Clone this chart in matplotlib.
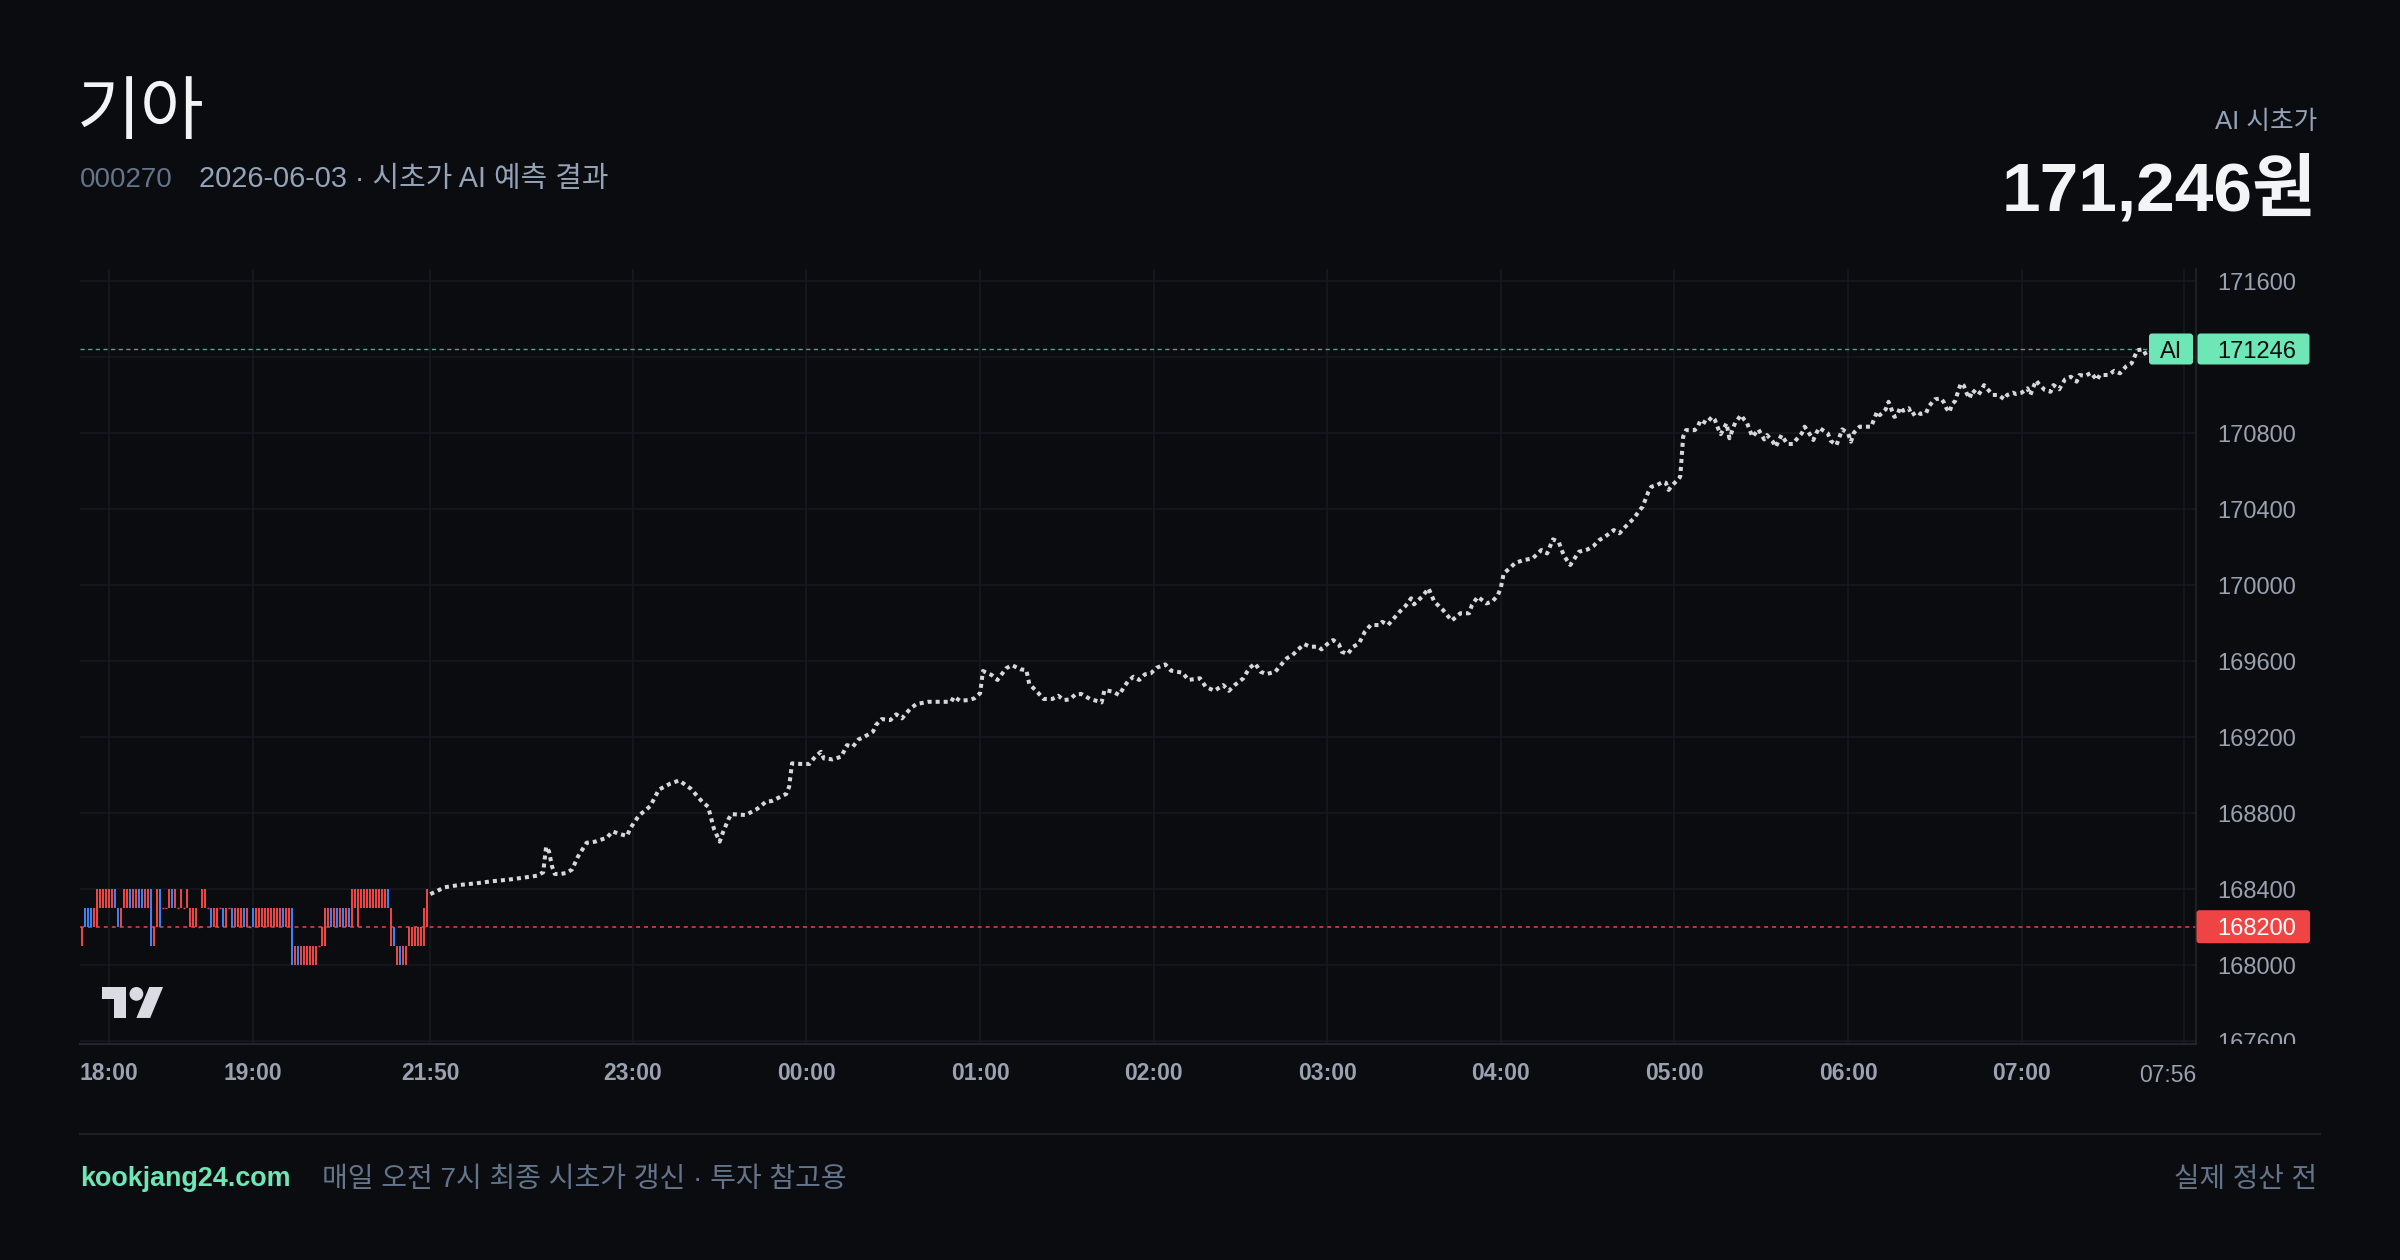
import numpy as np
import matplotlib
matplotlib.use('Agg')
import matplotlib.pyplot as plt
from matplotlib.patches import FancyBboxPatch, Polygon, Circle
from matplotlib.transforms import Bbox, TransformedBbox

plt.rcParams['font.family'] = ['Liberation Sans', 'Noto Sans CJK KR', 'DejaVu Sans']

# ---- data ----
stock_name = '기아'
stock_code = '000270'
subtitle = '2026-06-03 · 시초가 AI 예측 결과'
ai_price = 171246
ref_price = 168200

# 1-minute candles of the evening session (oldest first)
hist_open = [168100, 168300, 168300, 168300, 168200, 168200, 168300, 168300, 168300, 168300,
             168300, 168400, 168300, 168200, 168300, 168300, 168400, 168300, 168300, 168400,
             168400, 168300, 168300, 168400, 168100, 168200, 168400, 168300, 168300, 168300,
             168400, 168300, 168300, 168300, 168300, 168300, 168200, 168200, 168200, 168200,
             168300, 168300, 168300, 168300, 168200, 168200, 168300, 168300, 168200, 168300,
             168300, 168200, 168200, 168200, 168300, 168200, 168200, 168300, 168200, 168200,
             168200, 168200, 168200, 168200, 168200, 168200, 168200, 168300, 168200, 168200,
             168300, 168000, 168100, 168000, 168000, 168000, 168000, 168000, 168000, 168100,
             168100, 168100, 168200, 168300, 168200, 168300, 168200, 168300, 168200, 168300,
             168200, 168300, 168200, 168300, 168300, 168300, 168300, 168300, 168300, 168300,
             168300, 168300, 168400, 168100, 168200, 168000, 168100, 168000, 168000, 168100,
             168100, 168100, 168100, 168100, 168100, 168200]
hist_close = [168200, 168200, 168200, 168200, 168300, 168400, 168400, 168400, 168400, 168400,
              168400, 168300, 168200, 168300, 168400, 168400, 168300, 168400, 168400, 168300,
              168300, 168400, 168400, 168100, 168200, 168400, 168200, 168300, 168300, 168400,
              168300, 168400, 168300, 168400, 168300, 168400, 168300, 168300, 168300, 168200,
              168400, 168400, 168300, 168200, 168300, 168300, 168300, 168200, 168300, 168300,
              168200, 168300, 168300, 168300, 168200, 168300, 168200, 168200, 168300, 168300,
              168300, 168300, 168300, 168300, 168300, 168300, 168300, 168200, 168300, 168300,
              168000, 168100, 168000, 168100, 168100, 168100, 168100, 168100, 168100, 168100,
              168200, 168300, 168300, 168200, 168300, 168200, 168300, 168200, 168300, 168200,
              168400, 168400, 168400, 168400, 168400, 168400, 168400, 168400, 168400, 168400,
              168400, 168400, 168300, 168300, 168100, 168100, 168000, 168100, 168100, 168200,
              168200, 168200, 168200, 168200, 168300, 168400]
hist_tick_idx = [9, 57]
hist_tick_lbl = ['18:00', '19:00']

# AI forecast path, minutes after 21:50
fc_min = [0, 5, 10, 16, 21, 27, 32, 37, 39, 40, 41, 42, 43, 45, 47, 49, 51, 54, 57, 61,
          63, 65, 68, 69, 72, 76, 79, 83, 86, 90, 94, 96, 98, 100, 101, 103, 104, 109, 113, 116,
          118, 123, 124, 125, 128, 131, 133, 135, 136, 139, 142, 144, 146, 148, 150, 153, 154, 156, 159, 161,
          163, 166, 168, 172, 180, 181, 183, 186, 188, 190, 191, 194, 196, 199, 201, 204, 206, 207, 210, 212,
          215, 217, 219, 221, 223, 225, 228, 232, 233, 236, 238, 241, 243, 245, 247, 249, 251, 254, 256, 260,
          262, 266, 268, 271, 274, 276, 278, 281, 283, 285, 287, 289, 292, 294, 296, 298, 300, 302, 304, 307,
          308, 310, 312, 314, 315, 317, 319, 321, 323, 325, 328, 329, 331, 333, 335, 337, 339, 340, 343, 345,
          347, 350, 353, 356, 359, 360, 362, 365, 367, 369, 370, 371, 373, 375, 378, 381, 384, 386, 388, 390,
          391, 392, 394, 397, 400, 402, 404, 406, 409, 411, 413, 416, 418, 419, 420, 421, 422, 424, 426, 427,
          428, 429, 431, 432, 433, 434, 437, 438, 439, 441, 443, 444, 445, 446, 448, 449, 450, 451, 453, 454,
          455, 456, 457, 459, 461, 462, 464, 465, 467, 469, 471, 472, 474, 475, 476, 478, 479, 480, 483, 484,
          486, 487, 488, 490, 491, 492, 494, 496, 498, 499, 500, 501, 503, 504, 505, 506, 507, 508, 509, 511,
          512, 514, 515, 517, 518, 520, 522, 523, 524, 525, 526, 527, 528, 529, 530, 531, 532, 533, 535, 536,
          537, 539, 540, 542, 544, 545, 547, 548, 550, 552, 553, 554, 555, 556, 558, 560, 561, 563, 564, 565,
          567, 569, 570, 572, 574, 576, 577, 580, 582, 584, 586, 588, 589, 590, 592, 593, 597]
fc_price = [168375, 168411, 168423, 168432, 168442, 168451, 168461, 168472, 168490, 168624,
            168600, 168523, 168481, 168481, 168486, 168505, 168572, 168645, 168651, 168672,
            168705, 168693, 168681, 168719, 168787, 168838, 168925, 168957, 168973, 168930,
            168860, 168835, 168719, 168651, 168695, 168768, 168796, 168791, 168824, 168861,
            168865, 168902, 168940, 169063, 169060, 169060, 169098, 169124, 169089, 169084,
            169098, 169159, 169150, 169189, 169203, 169230, 169265, 169296, 169291, 169321,
            169300, 169353, 169375, 169387, 169387, 169414, 169393, 169396, 169405, 169432,
            169549, 169528, 169502, 169563, 169580, 169558, 169554, 169481, 169435, 169402,
            169402, 169419, 169396, 169400, 169426, 169428, 169402, 169384, 169449, 169440,
            169423, 169493, 169519, 169502, 169532, 169537, 169566, 169584, 169551, 169540,
            169502, 169511, 169466, 169445, 169475, 169445, 169475, 169511, 169563, 169589,
            169545, 169533, 169545, 169581, 169616, 169633, 169663, 169691, 169677, 169677,
            169663, 169691, 169712, 169691, 169651, 169638, 169677, 169695, 169756, 169791,
            169791, 169808, 169791, 169826, 169861, 169891, 169932, 169900, 169944, 169984,
            169914, 169870, 169814, 169853, 169853, 169896, 169940, 169905, 169914, 169949,
            169989, 170063, 170089, 170119, 170133, 170142, 170186, 170168, 170242, 170229,
            170186, 170151, 170107, 170177, 170189, 170207, 170238, 170256, 170291, 170274,
            170308, 170353, 170396, 170414, 170454, 170493, 170519, 170528, 170545, 170540,
            170502, 170523, 170554, 170572, 170782, 170817, 170817, 170832, 170870, 170853,
            170887, 170870, 170829, 170796, 170853, 170774, 170817, 170856, 170896, 170874,
            170858, 170817, 170782, 170821, 170768, 170791, 170756, 170729, 170791, 170744,
            170744, 170765, 170800, 170835, 170814, 170765, 170800, 170829, 170800, 170761,
            170738, 170779, 170821, 170800, 170756, 170803, 170835, 170835, 170835, 170874,
            170914, 170896, 170926, 170966, 170926, 170887, 170893, 170937, 170919, 170932,
            170896, 170914, 170902, 170908, 170944, 170979, 170984, 170966, 170932, 170911,
            170954, 170970, 171019, 171063, 171051, 171011, 170984, 171028, 171002, 171024,
            171054, 171019, 171002, 171002, 170979, 171002, 171014, 171007, 171014, 171037,
            171002, 171042, 171078, 171059, 171028, 171019, 171054, 171032, 171059, 171084,
            171098, 171072, 171107, 171102, 171119, 171080, 171107, 171107, 171129, 171116,
            171151, 171168, 171203, 171238, 171242, 171212, 171246]
fc_tick_min = [0, 70, 130, 190, 250, 310, 370, 430, 490, 550]
fc_tick_lbl = ['21:50', '23:00', '00:00', '01:00', '02:00', '03:00', '04:00', '05:00', '06:00', '07:00']
end_min = 606
end_lbl = '07:56'
price_ticks = [167600, 168000, 168400, 168800, 169200, 169600, 170000, 170400, 170800, 171200, 171600]

# ---- colours ----
BG = '#0a0c10'
GRID = '#171a20'
AXC = '#9aa2b1'
UP = '#ef4444'
DOWN = '#3b82f6'
MINT = '#6ee7b7'

fig = plt.figure(figsize=(24, 12.6), dpi=100, facecolor=BG)
W, H = 2400, 1260
ax = fig.add_axes([80 / W, 1 - 1044 / H, (2196.4 - 80) / W, (1044 - 269) / H])
ax.set_facecolor(BG)
ax.set_xlim(-121.1, 610.4)
ax.set_ylim(167586, 171665)

# candles placed by bar slot, the last one just before 21:50
slot = 1.037
n = len(hist_open)
o = np.array(hist_open)
c = np.array(hist_close)
cx = -1.25 - slot * (n - 1 - np.arange(n))
up = c > o
dn = c < o
dj = c == o
ax.bar(cx[up], (c - o)[up], bottom=o[up], width=0.7, color=UP, linewidth=0, zorder=3)
ax.bar(cx[dn], (c - o)[dn], bottom=o[dn], width=0.7, color=DOWN, linewidth=0, zorder=3)
ax.hlines(o[dj], cx[dj] - 0.35, cx[dj] + 0.35, color=UP, lw=1.0, zorder=3)

# reference price lines
ax.axhline(ref_price, color=UP, lw=1.1, dashes=(2.6, 2.6), zorder=2)
ax.axhline(ai_price, color='#4aa885', lw=1.0, dashes=(3, 2.5), zorder=2)

# forecast dotted path
ax.plot(fc_min, fc_price, color='#d6d7db', lw=2.9, linestyle=(0, (1, 1)),
        dash_capstyle='butt', solid_joinstyle='miter', zorder=4)

# axes styling
xt = [cx[i] for i in hist_tick_idx] + fc_tick_min + [end_min]
ax.set_xticks(xt)
ax.set_xticklabels(hist_tick_lbl + fc_tick_lbl + [''])
ax.set_yticks(price_ticks)
# 171200 sits under the AI tag, so its label is not shown
ax.set_yticklabels(['' if p == 171200 else str(p) for p in price_ticks])
ax.yaxis.tick_right()
ax.grid(True, color=GRID, lw=1.1, zorder=0)
ax.tick_params(axis='x', length=0, pad=13, labelsize=16.5, labelcolor=AXC)
ax.tick_params(axis='y', length=0, pad=14.8, labelsize=17, labelcolor=AXC)
for lbl in ax.get_xticklabels():
    lbl.set_fontweight('bold')
for s in ['top', 'left']:
    ax.spines[s].set_visible(False)
ax.spines['bottom'].set_color('#22252c')
ax.spines['bottom'].set_linewidth(1.6)
ax.spines['right'].set_color('#22252c')
ax.spines['right'].set_linewidth(1.2)

# the lowest price label is cut by the bottom of the pane
clip = TransformedBbox(Bbox([[1, 0], [1.2, 1]]), ax.transAxes)
t0 = ax.yaxis.get_major_ticks()[0].label2
t0.set_clip_on(True)
t0.set_clip_box(clip)

# ---- overlay in pixel coordinates ----
ov = fig.add_axes([0, 0, 1, 1], zorder=10)
ov.set_xlim(0, W)
ov.set_ylim(H, 0)
ov.axis('off')
ov.patch.set_alpha(0)

ov.text(77, 115, stock_name, fontsize=50, color='#f3f4f6', va='center', ha='left')
ov.text(80, 186.7, stock_code, fontsize=20, color='#64748b', va='baseline')
ov.text(198.7, 186.7, subtitle, fontsize=20.8, color='#94a3b8', va='baseline')
ov.text(2317, 129.3, 'AI 시초가', fontsize=18.5, color='#94a3b8', va='baseline', ha='right')
ov.text(2316, 210.7, f'{ai_price:,}원', fontsize=50, fontweight='bold', color='#f3f4f6',
        va='baseline', ha='right')

# end-of-axis time label
ov.text(2196, 1075, end_lbl, fontsize=16.5, color=AXC, va='center', ha='right')

# price tags on the right scale
y_ai = 349
ov.add_patch(FancyBboxPatch((2149, y_ai - 15.5), 44, 31, boxstyle='round,pad=0,rounding_size=3',
                            fc=MINT, ec='none'))
ov.add_patch(FancyBboxPatch((2197.5, y_ai - 15.5), 112, 31, boxstyle='round,pad=0,rounding_size=3',
                            fc=MINT, ec='none'))
ov.text(2171, y_ai, 'AI', fontsize=17, color='#0a0c10', ha='center', va='center_baseline')
ov.text(2217, y_ai, str(ai_price), fontsize=17, color='#0a0c10', ha='left', va='center_baseline')

y_ref = 926.7
ov.add_patch(FancyBboxPatch((2196.5, y_ref - 16.5), 113.5, 33, boxstyle='round,pad=0,rounding_size=3',
                            fc=UP, ec='none'))
ov.text(2217, y_ref, str(ref_price), fontsize=17, color='white', ha='left', va='center_baseline')

# TradingView mark
s = 1.72
lx, ly = 102, 987
def tv(pts):
    return [(lx + s * px, ly + s * (py - 4)) for px, py in pts]
logo_c = '#d9dce3'
ov.add_patch(Polygon(tv([(14, 22), (7, 22), (7, 11), (0, 11), (0, 4), (14, 4)]), closed=True, fc=logo_c, ec='none'))
ov.add_patch(Polygon(tv([(28, 22), (20, 22), (27.5, 4), (35.5, 4)]), closed=True, fc=logo_c, ec='none'))
ov.add_patch(Circle((lx + s * 20, ly + s * 4), s * 4, fc=logo_c, ec='none'))

# footer
ov.plot([80, 2320], [1134, 1134], color='#1c1f26', lw=1.5)
ov.text(80, 1186, 'kookjang24.com', fontsize=19.4, fontweight='bold', color=MINT, va='baseline')
ov.text(321.5, 1187, '매일 오전 7시 최종 시초가 갱신 · 투자 참고용', fontsize=20.2, color='#64748b', va='baseline')
ov.text(2317, 1187, '실제 정산 전', fontsize=20, color='#64748b', va='baseline', ha='right')

fig.savefig('out.png', dpi=100, facecolor=BG)
